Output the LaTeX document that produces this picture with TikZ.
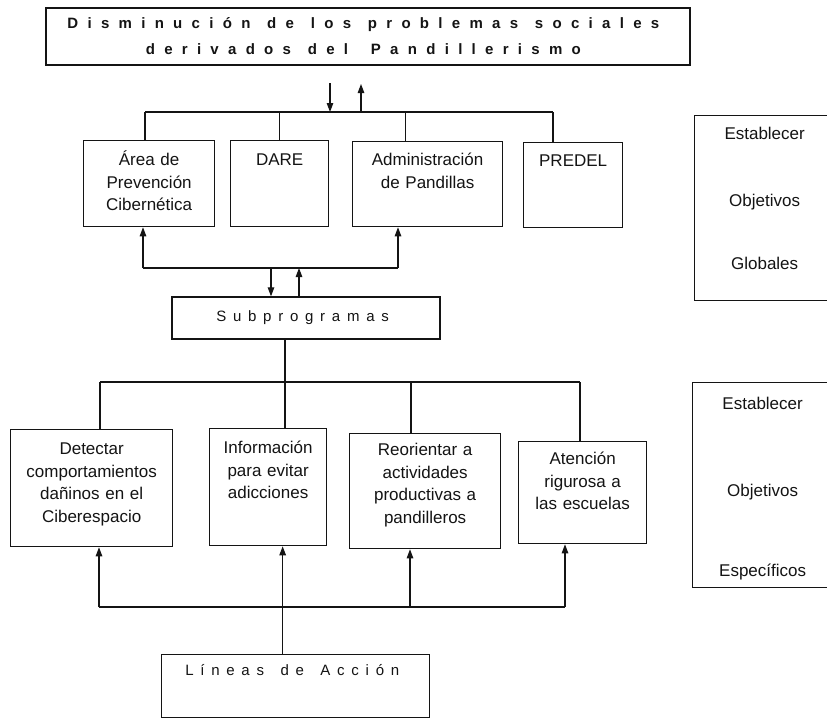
\documentclass[tikz,border=0pt]{standalone}
\usepackage{fontspec}
\setmainfont{Liberation Sans}
\usetikzlibrary{arrows.meta}
\definecolor{ink}{HTML}{141414}
% texto espaciado: letra por letra, ~ marca el espacio entre palabras
\newlength{\letterkern}
\newlength{\wordkern}
\def\spacedloop#1{%
  \ifx#1\relax\else
    \ifx#1~\hspace{\wordkern}\else#1\kern\letterkern\fi
    \expandafter\spacedloop
  \fi}
\newcommand{\spacedtext}[3]{\setlength{\letterkern}{#1}\setlength{\wordkern}{#2}\spacedloop#3\relax}
\tikzset{
  objbox/.style={draw=ink, line width=1.3pt, anchor=north west, align=center, inner sep=0pt,
    text=ink, text height=25pt, font=\fontsize{17}{22.5}\selectfont},
  spacedbox/.style={draw=ink, line width=1.3pt, inner sep=0pt, text=ink},
  link/.style={draw=ink, line width=1.1pt},
  arrow/.style={link, -{Triangle[length=9pt,width=6.5pt]}},
}

\begin{document}
\begin{tikzpicture}[x=1pt,y=-1pt]
% Subprogramas y lineas de accion
\fill[white] (0,0) rectangle (827,718);
\useasboundingbox (0,0) rectangle (827,718);

\node[spacedbox, minimum width=644pt, minimum height=57pt, align=center,
  font=\fontsize{15}{26}\selectfont\bfseries] (meta) at (368,36.5)
  {\spacedtext{0.62em}{0.5em}{Disminución~de~los~problemas~sociales}\\
   \spacedtext{0.62em}{0.5em}{derivados~del}\hspace{6pt}\spacedtext{0.62em}{0.5em}{~Pandillerismo}};

\node[objbox, text width=131pt, text depth=61pt] (area) at (83,140) {Área de\\Prevención\\Cibernética};
\node[objbox, text width=98pt, text depth=61pt] (dare) at (230,140) {DARE};
\node[objbox, text width=150pt, text depth=61pt, text height=24pt] (admin) at (352,141) {Administración\\de Pandillas};
\node[objbox, text width=99pt, text depth=61pt, text height=24pt] (predel) at (523,142) {PREDEL};

\node[spacedbox, minimum width=268pt, minimum height=42pt,
  font=\fontsize{15}{18}\selectfont] (sub) at (306,318) {\spacedtext{0.45em}{0.65em}{Subprogramas}};

\node[objbox, text width=162pt, text depth=92pt] (detect) at (10,429) {Detectar\\comportamientos\\dañinos en el\\Ciberespacio};
\node[objbox, text width=117pt, text depth=92pt] (info) at (209,428) {Información\\para evitar\\adicciones};
\node[objbox, text width=151pt, text depth=93pt, text height=22pt] (reor) at (349,433) {Reorientar a\\actividades\\productivas a\\pandilleros};
\node[objbox, text width=128pt, text depth=79pt, text height=23pt] (aten) at (518,441) {Atención\\rigurosa a\\las escuelas};

\node[objbox, text width=268pt, text height=21pt, text depth=42pt,
  font=\fontsize{15}{18}\selectfont] (lineas) at (161,654) {\spacedtext{0.45em}{0.65em}{Líneas~de~Acción}};

\node[objbox, text width=140pt, text height=24pt, text depth=161pt] (globales) at (694,115)
  {Establecer\\[44.5pt]Objetivos\\[40.5pt]Globales};
\node[objbox, text width=140pt, text height=27pt, text depth=178pt] (especificos) at (692,382)
  {Establecer\\[64.5pt]Objetivos\\[57.5pt]Específicos};

% arriba
\coordinate (topin) at (330,83);
\coordinate (topout) at (361,84);
\coordinate (busw) at (145,112);
\coordinate (buse) at (553,112);
\coordinate (adminin) at ([xshift=-22pt]admin.north);
\draw[link] (busw) -- (buse);
\draw[arrow] (topin) -- (topin |- busw);
\draw[arrow] (topout |- busw) -- (topout);
\draw[link] (busw) -- (busw |- area.north);
\draw[link] (dare.north |- busw) -- (dare.north);
\draw[link] (adminin |- busw) -- (adminin);
\draw[link] (buse) -- (buse |- predel.north);

% centro
\coordinate (midw) at (143,268);
\coordinate (mide) at (398,268);
\coordinate (subin) at ([xshift=-35pt]sub.north);
\coordinate (subout) at ([xshift=-7pt]sub.north);
\draw[link] (midw) -- (mide);
\draw[arrow] (midw) -- (midw |- area.south);
\draw[arrow] (mide) -- (mide |- admin.south);
\draw[arrow] (subin |- midw) -- (subin);
\draw[arrow] (subout) -- (subout |- midw);

% abajo
\coordinate (subdown) at ([xshift=-21pt]sub.south);
\coordinate (loww) at (100,382);
\coordinate (lowr) at (411,382);
\coordinate (lowe) at (580,382);
\draw[link] (loww) -- (lowe);
\draw[link] (subdown) -- (subdown |- info.north);
\draw[link] (loww) -- (loww |- detect.north);
\draw[link] (lowr) -- (lowr |- reor.north);
\draw[link] (lowe) -- (lowe |- aten.north);

\coordinate (basew) at (99,607);
\coordinate (baser) at (410,607);
\coordinate (basee) at (565,607);
\coordinate (lineasup) at ([xshift=-13pt]lineas.north);
\draw[link] (basew) -- (basee);
\draw[arrow] (basew) -- (basew |- detect.south);
\draw[arrow] (baser) -- (baser |- reor.south);
\draw[arrow] (basee) -- (basee |- aten.south);
\draw[arrow] (lineasup) -- (lineasup |- info.south);
\end{tikzpicture}
\end{document}
